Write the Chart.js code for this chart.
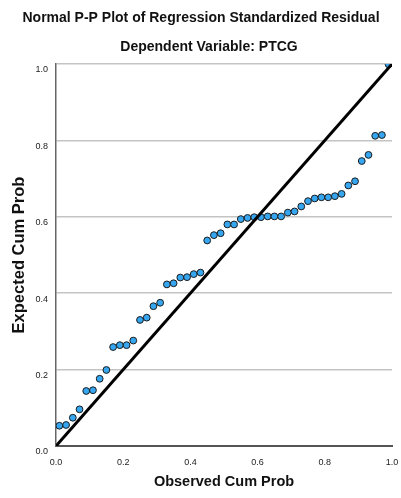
<!DOCTYPE html>
<html>
<head>
<meta charset="utf-8">
<script src="https://cdn.jsdelivr.net/npm/chart.js@4.4.1/dist/chart.umd.min.js"></script>
<style>
  html, body { margin: 0; padding: 0; background: #fff; }
  #wrap { width: 401px; height: 498px; }
</style>
</head>
<body>
<div id="wrap"><canvas id="ppChart" width="401" height="498"></canvas></div>
<script>
// Titles
const chartTitle = 'Normal P-P Plot of Regression Standardized Residual';
const chartSubtitle = 'Dependent Variable: PTCG';
const xTitle = 'Observed Cum Prob';
const yTitle = 'Expected Cum Prob';

// Observed cumulative probability of each residual
const observed = [
  0.01, 0.03, 0.05, 0.07, 0.09, 0.11, 0.13, 0.15, 0.17, 0.19,
  0.21, 0.23, 0.25, 0.27, 0.29, 0.31, 0.33, 0.35, 0.37, 0.39,
  0.41, 0.43, 0.45, 0.47, 0.49, 0.51, 0.53, 0.55, 0.57, 0.59,
  0.61, 0.63, 0.65, 0.67, 0.69, 0.71, 0.73, 0.75, 0.77, 0.79,
  0.81, 0.83, 0.85, 0.87, 0.89, 0.91, 0.93, 0.95, 0.97, 0.99
];

// Expected cumulative probability under normality
const expected = [
  0.053, 0.055, 0.074, 0.096, 0.144, 0.146, 0.176, 0.199, 0.259, 0.264,
  0.264, 0.276, 0.330, 0.336, 0.366, 0.375, 0.423, 0.426, 0.441, 0.442,
  0.450, 0.454, 0.538, 0.552, 0.557, 0.580, 0.580, 0.594, 0.597, 0.599,
  0.599, 0.601, 0.601, 0.601, 0.611, 0.614, 0.627, 0.641, 0.648, 0.651,
  0.651, 0.654, 0.660, 0.682, 0.693, 0.746, 0.762, 0.812, 0.814, 0.999
];

// Reference diagonal
const diagX = [0, 1];
const diagY = [0, 1];

const tickValues = [0, 0.2, 0.4, 0.6, 0.8, 1.0];

const FONT = '"Liberation Sans", Arial, sans-serif';

// Two-line heading above the plot
const headingPlugin = {
  id: 'heading',
  afterDraw(chart) {
    const ctx = chart.ctx;
    ctx.save();
    ctx.fillStyle = '#111';
    ctx.textAlign = 'center';
    ctx.textBaseline = 'middle';
    ctx.font = 'bold 14px ' + FONT;
    ctx.fillText(chartTitle, 201, 18);
    ctx.fillText(chartSubtitle, 209, 47);
    ctx.restore();
  }
};

const ctx = document.getElementById('ppChart').getContext('2d');

new Chart(ctx, {
  type: 'scatter',
  data: {
    datasets: [
      {
        label: 'Diagonal',
        data: diagX.map((x, i) => ({ x: x, y: diagY[i] })),
        showLine: true,
        borderColor: '#000',
        borderWidth: 3,
        pointRadius: 0,
        order: 0
      },
      {
        label: 'Residuals',
        data: observed.map((x, i) => ({ x: x, y: expected[i] })),
        backgroundColor: '#35a6ef',
        borderColor: '#1b1b1b',
        borderWidth: 1,
        pointRadius: 3.4,
        order: 1
      }
    ]
  },
  options: {
    responsive: false,
    animation: false,
    devicePixelRatio: 1,
    layout: { padding: { top: 64, right: 9, left: 0, bottom: 0 } },
    plugins: {
      legend: { display: false },
      tooltip: { enabled: false }
    },
    scales: {
      x: {
        type: 'linear',
        min: 0,
        max: 1,
        afterBuildTicks: s => { s.ticks = tickValues.map(v => ({ value: v })); },
        afterFit: s => { s.height = 52; s.paddingLeft = 0; s.paddingRight = 0; },
        grid: { display: false, drawTicks: false },
        border: { display: true, color: '#555', width: 2 },
        ticks: {
          padding: 11,
          color: '#222',
          font: { family: FONT, size: 9 },
          maxRotation: 0,
          callback: v => v.toFixed(1)
        },
        title: {
          display: true,
          text: xTitle,
          color: '#111',
          font: { family: FONT, size: 14.5, weight: 'bold', lineHeight: 1.2 },
          padding: { top: 0, bottom: 7 }
        }
      },
      y: {
        type: 'linear',
        min: 0,
        max: 1,
        afterBuildTicks: s => { s.ticks = tickValues.map(v => ({ value: v })); },
        afterFit: s => { s.width = 56; s.paddingTop = 0; s.paddingBottom = 0; },
        grid: { color: '#c4c4c4', lineWidth: 1.5, drawTicks: false },
        border: { display: true, color: '#666', width: 1.5 },
        ticks: {
          padding: 8,
          labelOffset: 6,
          color: '#222',
          font: { family: FONT, size: 9 },
          callback: v => v.toFixed(1)
        },
        title: {
          display: true,
          text: yTitle,
          color: '#111',
          font: { family: FONT, size: 16.5, weight: 'bold', lineHeight: 1.2 },
          padding: { top: 10, bottom: 0 }
        }
      }
    }
  },
  plugins: [headingPlugin]
});
</script>
</body>
</html>
